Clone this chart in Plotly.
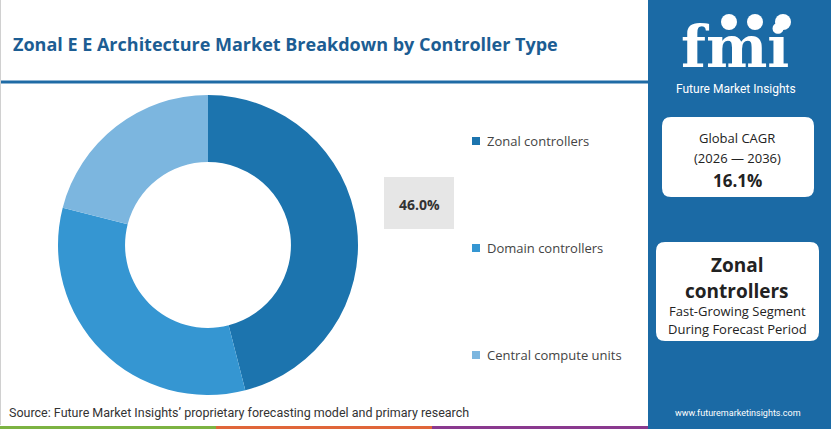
import plotly.graph_objects as go

W, H = 831, 429

# data
segments = ["Zonal controllers", "Domain controllers", "Central compute units"]
shares = [46.0, 33.0, 21.0]
colors = ["#1c74ae", "#3596d2", "#7cb6df"]
cagr = "16.1%"
cagr_period = "(2026 — 2036)"
lead_segment = "Zonal controllers"


def px(x):
    return x / W


def py(y):
    return 1 - y / H


def rounded_box(x0, y0, x1, y1, r):
    # path in paper coords, corners rounded by r pixels
    pts = (f"M {px(x0 + r)},{py(y0)} L {px(x1 - r)},{py(y0)} "
           f"Q {px(x1)},{py(y0)} {px(x1)},{py(y0 + r)} "
           f"L {px(x1)},{py(y1 - r)} Q {px(x1)},{py(y1)} {px(x1 - r)},{py(y1)} "
           f"L {px(x0 + r)},{py(y1)} Q {px(x0)},{py(y1)} {px(x0)},{py(y1 - r)} "
           f"L {px(x0)},{py(y0 + r)} Q {px(x0)},{py(y0)} {px(x0 + r)},{py(y0)} Z")
    return dict(type="path", xref="paper", yref="paper", path=pts,
                fillcolor="white", line=dict(width=0))


def label(x, y, text, size, color, family="Open Sans", xanchor="center"):
    return dict(x=px(x), y=py(y), xref="paper", yref="paper", text=text,
                showarrow=False, xanchor=xanchor, yanchor="middle",
                font=dict(family=family, size=size, color=color))


fig = go.Figure()
fig.add_trace(go.Pie(
    labels=segments, values=shares, sort=False, direction="clockwise",
    rotation=0, hole=0.553, marker=dict(colors=colors, line=dict(width=0)),
    textinfo="none", hoverinfo="label+percent", showlegend=False,
    domain=dict(x=[px(58), px(358)], y=[py(395), py(95)]),
))

shapes = []
annotations = []

# right blue panel
shapes.append(dict(type="rect", xref="paper", yref="paper", x0=px(648), x1=1,
                   y0=0, y1=1, fillcolor="#1b6aa5", line=dict(width=0)))
# title underline
shapes.append(dict(type="line", xref="paper", yref="paper", x0=0, x1=px(648),
                   y0=py(82), y1=py(82), line=dict(color="#1f6ba5", width=3)))
# left border
shapes.append(dict(type="line", xref="paper", yref="paper", x0=px(0.5), x1=px(0.5),
                   y0=py(425), y1=1, line=dict(color="#d0d0d0", width=1)))
# bottom colour stripe
for x0, x1, c in [(0, 216, "#7cb342"), (216, 432, "#e0663a"), (432, 648, "#8a3a8f")]:
    shapes.append(dict(type="rect", xref="paper", yref="paper", x0=px(x0), x1=px(x1),
                       y0=0, y1=py(426), fillcolor=c, line=dict(width=0)))

# white info boxes
shapes.append(rounded_box(662, 117, 814, 197, 9))
shapes.append(rounded_box(656, 242, 819, 341, 9))

# logo globes
for gx in [729, 755, 783]:
    shapes.append(dict(type="circle", xref="paper", yref="paper",
                       x0=px(gx - 8), x1=px(gx + 8), y0=py(30), y1=py(14),
                       fillcolor="white", line=dict(width=0)))

# legend
legend_y = [141, 248, 355]
for lab, c, ly in zip(segments, colors, legend_y):
    shapes.append(dict(type="rect", xref="paper", yref="paper",
                       x0=px(472), x1=px(480), y0=py(ly + 4), y1=py(ly - 4),
                       fillcolor=c, line=dict(width=0)))
    annotations.append(label(485, ly, lab, 13, "#444444", xanchor="left"))

# value callout
shapes.append(dict(type="rect", xref="paper", yref="paper", x0=px(384), x1=px(454),
                   y0=py(229), y1=py(177), fillcolor="#e6e6e6", line=dict(width=0)))
annotations.append(label(419, 204, f"<b>{shares[0]:.1f}%</b>", 14, "#333333"))

# title and source
annotations.append(label(11, 44, "<b>Zonal E E Architecture Market Breakdown by Controller Type</b>",
                         18, "#1c5d93", xanchor="left"))
annotations.append(label(7, 412, "Source: Future Market Insights’ proprietary forecasting model and primary research",
                         12.5, "#333333", family="Roboto", xanchor="left"))

# logo text
annotations.append(label(735, 47, "<b>fmi</b>", 58, "white", family="DejaVu Serif"))
annotations.append(label(736, 89, "Future Market Insights", 12, "white", family="Roboto"))

# CAGR box
for t, yv, sz in [("Global CAGR", 138, 13), (cagr_period, 158, 13), (f"<b>{cagr}</b>", 180, 17)]:
    annotations.append(label(737, yv, t, sz, "#222222"))

# segment box
seg_words = lead_segment.split(" ")
for t, yv, sz in [(f"<b>{seg_words[0]}</b>", 265, 19), (f"<b>{seg_words[1]}</b>", 291, 19),
                  ("Fast-Growing Segment", 311, 13), ("During Forecast Period", 329, 13)]:
    annotations.append(label(737, yv, t, sz, "#222222"))

annotations.append(label(738, 413, "www.futuremarketinsights.com", 9, "white", family="Roboto"))

fig.update_layout(
    width=W, height=H, autosize=False,
    margin=dict(l=0, r=0, t=0, b=0),
    paper_bgcolor="white", plot_bgcolor="white",
    shapes=shapes, annotations=annotations,
)

fig.write_html("out.html", config={"displayModeBar": False},
               post_script="document.body.style.margin='0';")
